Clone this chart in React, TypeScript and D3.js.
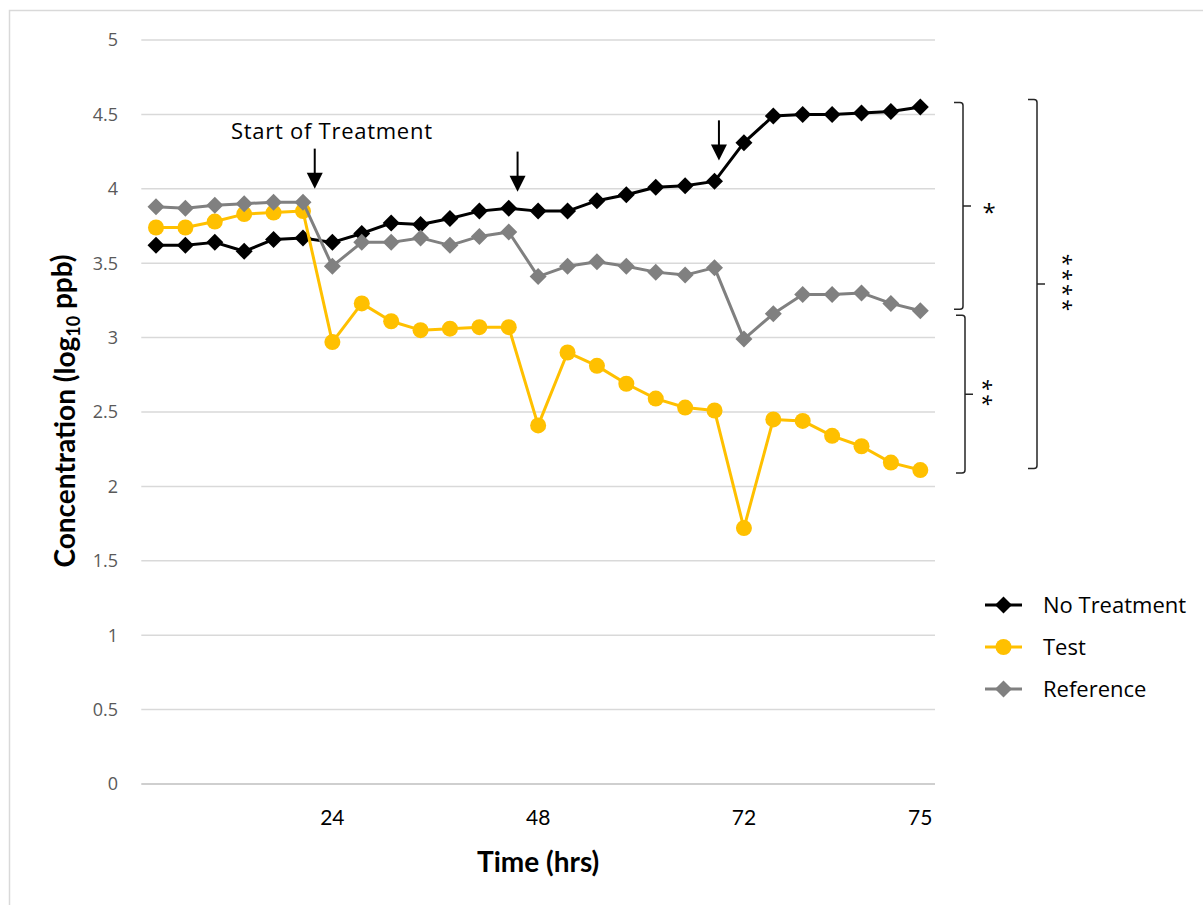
import React from "react";
import * as d3 from "d3";

// Sampling points along the time axis; only a few carry a label
const timeLabels = [
  "", "", "", "", "", "", "24", "", "", "", "", "", "", "48",
  "", "", "", "", "", "", "72", "", "", "", "", "", "75",
];

// log10 ppb concentrations per sample
const noTreatment = [
  3.62, 3.62, 3.64, 3.58, 3.66, 3.67, 3.64, 3.70, 3.77, 3.76, 3.80, 3.85, 3.87, 3.85,
  3.85, 3.92, 3.96, 4.01, 4.02, 4.05, 4.31, 4.49, 4.50, 4.50, 4.51, 4.52, 4.55,
];
const testSeries = [
  3.74, 3.74, 3.78, 3.83, 3.84, 3.85, 2.97, 3.23, 3.11, 3.05, 3.06, 3.07, 3.07, 2.41,
  2.90, 2.81, 2.69, 2.59, 2.53, 2.51, 1.72, 2.45, 2.44, 2.34, 2.27, 2.16, 2.11,
];
const referenceSeries = [
  3.88, 3.87, 3.89, 3.90, 3.91, 3.91, 3.48, 3.64, 3.64, 3.67, 3.62, 3.68, 3.71, 3.41,
  3.48, 3.51, 3.48, 3.44, 3.42, 3.47, 2.99, 3.16, 3.29, 3.29, 3.30, 3.23, 3.18,
];

const yTicks = [0, 0.5, 1, 1.5, 2, 2.5, 3, 3.5, 4, 4.5, 5];

// Treatment arrows: position in sample units, start and tip values
const treatmentArrows = [
  { pos: 5.4, from: 4.27, to: 4.0 },
  { pos: 12.3, from: 4.25, to: 3.98 },
  { pos: 19.15, from: 4.46, to: 4.19 },
];

// Significance brackets (value ranges) and their labels
const bracketRanges = [
  { top: 4.58, bottom: 3.19 },
  { top: 3.15, bottom: 2.09 },
  { top: 4.6, bottom: 2.12 },
];
const bracketLabels = ["*", "**", "****"];

const seriesDefs = [
  { name: "No Treatment", values: noTreatment, color: "#000000", marker: "diamond" },
  { name: "Test", values: testSeries, color: "#FFC000", marker: "circle" },
  { name: "Reference", values: referenceSeries, color: "#808080", marker: "diamond" },
];

const W = 1203;
const H = 905;
const plotLeft = 141.3;
const plotRight = 935;
const plotTop = 40;
const plotBottom = 784;

// bracket placement on screen: spine x, label centre offset, label set vertically
const bracketLayout = [
  { x: 963, labelDx: 26, vertical: false },
  { x: 965, labelDx: 23, vertical: true },
  { x: 1037, labelDx: 31, vertical: true },
];

const labelFont = "Lato, 'Open Sans', sans-serif";

function Marker({ kind, cx, cy, color }: { kind: string; cx: number; cy: number; color: string }) {
  if (kind === "circle") return <circle cx={cx} cy={cy} r={8} fill={color} />;
  const s = 8.5;
  return (
    <path
      d={`M${cx},${cy - s}L${cx + s},${cy}L${cx},${cy + s}L${cx - s},${cy}Z`}
      fill={color}
    />
  );
}

export default function App() {
  const idx = timeLabels.map((_, i) => i);
  const x = d3.scalePoint<number>().domain(idx).range([plotLeft, plotRight]).padding(0.5);
  const step = x.step();
  const xAt = (p: number) => (x(0) as number) + p * step;
  const y = d3.scaleLinear().domain([0, 5]).range([plotBottom, plotTop]);

  const line = d3
    .line<number>()
    .x((_, i) => x(i) as number)
    .y((v) => y(v));

  return (
    <svg
      width={W}
      height={H}
      style={{ position: "absolute", left: 0, top: 0, background: "#fff" }}
    >
      <rect x={9.5} y={10.5} width={W} height={H} fill="none" stroke="#d9d9d9" strokeWidth={1.5} />

      {/* horizontal gridlines and value labels */}
      {yTicks.map((t) => (
        <g key={t}>
          <line
            x1={plotLeft}
            x2={plotRight}
            y1={y(t)}
            y2={y(t)}
            stroke={t === 0 ? "#bfbfbf" : "#d9d9d9"}
            strokeWidth={1.5}
          />
          <text
            x={118}
            y={y(t)}
            dy="0.35em"
            textAnchor="end"
            fontFamily="'Open Sans', sans-serif"
            fontSize={18}
            fill="#595959"
          >
            {t}
          </text>
        </g>
      ))}

      {/* time labels */}
      {timeLabels.map((l, i) =>
        l ? (
          <text
            key={i}
            x={x(i) as number}
            y={818}
            dy="0.35em"
            textAnchor="middle"
            fontFamily={labelFont}
            fontSize={21}
            fill="#000"
          >
            {l}
          </text>
        ) : null
      )}

      <text
        x={(plotLeft + plotRight) / 2}
        y={862}
        dy="0.35em"
        textAnchor="middle"
        fontFamily={labelFont}
        fontWeight="bold"
        fontSize={28}
        fill="#000"
      >
        Time (hrs)
      </text>

      <text
        transform={`translate(65,${411}) rotate(-90)`}
        dy="0.35em"
        textAnchor="middle"
        fontFamily={labelFont}
        fontWeight="bold"
        fontSize={28}
        fill="#000"
      >
        Concentration (log
        <tspan fontSize={18} dy="0.3em">10</tspan>
        <tspan dy="-0.3em"> ppb)</tspan>
      </text>

      {/* series */}
      {seriesDefs.map((s) => (
        <g key={s.name}>
          <path d={line(s.values) || ""} fill="none" stroke={s.color} strokeWidth={3} strokeLinejoin="round" />
          {s.values.map((v, i) => (
            <Marker key={i} kind={s.marker} cx={x(i) as number} cy={y(v)} color={s.color} />
          ))}
        </g>
      ))}

      {/* treatment arrows */}
      {treatmentArrows.map((a, i) => {
        const ax = xAt(a.pos);
        const y0 = y(a.from);
        const y1 = y(a.to);
        return (
          <g key={i}>
            <line x1={ax} x2={ax} y1={y0} y2={y1 - 12} stroke="#000" strokeWidth={2} />
            <path d={`M${ax - 8},${y1 - 16}L${ax + 8},${y1 - 16}L${ax},${y1}Z`} fill="#000" />
          </g>
        );
      })}
      <text
        x={231}
        y={131}
        dy="0.35em"
        fontFamily="'Open Sans', sans-serif"
        fontSize={22}
        textLength={201}
        fill="#000"
      >
        Start of Treatment
      </text>

      {/* significance brackets */}
      {bracketRanges.map((b, i) => {
        const lay = bracketLayout[i];
        const bx = lay.x;
        const t = y(b.top);
        const bt = y(b.bottom);
        const mid = (t + bt) / 2;
        const arm = 9;
        const r = 3;
        const d = `M${bx - arm},${t}L${bx - r},${t}Q${bx},${t} ${bx},${t + r}L${bx},${bt - r}Q${bx},${bt} ${bx - r},${bt}L${bx - arm},${bt}M${bx},${mid}L${bx + 8},${mid}`;
        const lx = bx + lay.labelDx;
        return (
          <g key={i}>
            <path d={d} fill="none" stroke="#262626" strokeWidth={1.5} />
            {lay.vertical ? (
              <text
                transform={`translate(${lx},${mid}) rotate(90)`}
                dy="0.56em"
                textAnchor="middle"
                fontFamily="'Open Sans', sans-serif"
                fontSize={22}
                letterSpacing={3}
                fill="#000"
              >
                {bracketLabels[i]}
              </text>
            ) : (
              <text
                x={lx}
                y={mid}
                dy="0.62em"
                textAnchor="middle"
                fontFamily="'Open Sans', sans-serif"
                fontSize={24}
                fill="#000"
              >
                {bracketLabels[i]}
              </text>
            )}
          </g>
        );
      })}

      {/* legend */}
      {seriesDefs.map((s, i) => {
        const ly = 605 + i * 42;
        return (
          <g key={s.name}>
            <line x1={985} x2={1022} y1={ly} y2={ly} stroke={s.color} strokeWidth={3} />
            <Marker kind={s.marker} cx={1003.5} cy={ly} color={s.color} />
            <text
              x={1043}
              y={ly}
              dy="0.35em"
              fontFamily="'Open Sans', sans-serif"
              fontSize={22}
              fill="#000"
            >
              {s.name}
            </text>
          </g>
        );
      })}
    </svg>
  );
}
